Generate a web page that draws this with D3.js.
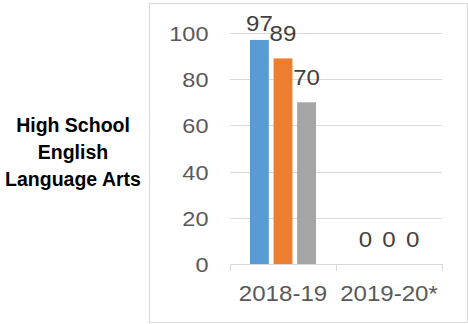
<!DOCTYPE html>
<html>
<head>
<meta charset="utf-8">
<script src="https://cdn.jsdelivr.net/npm/d3@7"></script>
<style>
  html, body { margin: 0; padding: 0; background: #fff; }
  svg { display: block; }
</style>
</head>
<body>
<svg id="chart" width="468" height="324"></svg>
<script>
const categories = ["2018-19", "2019-20*"];
const seriesNames = ["Series A", "Series B", "Series C"];
const seriesValues = [
  [97, 0],
  [89, 0],
  [70, 0]
];
const seriesColors = ["#5b9bd5", "#ed7d31", "#a5a5a5"];
const yTicks = [0, 20, 40, 60, 80, 100];
const titleLines = ["High School", "English", "Language Arts"];

const svg = d3.select("#chart");
const W = 468, H = 324;
const plot = { left: 230, right: 442, top: 33, bottom: 264 };
const sx = 1.12; // horizontal stretch of chart text
const txtFont = "'Liberation Sans', Arial, sans-serif";
const txtColor = "#595959";

svg.append("rect").attr("width", W).attr("height", H).attr("fill", "#fff");

// chart frame
svg.append("rect")
  .attr("x", 149.5).attr("y", 3.5)
  .attr("width", 318).attr("height", 319)
  .attr("fill", "none").attr("stroke", "#d9d9d9").attr("stroke-width", 1);

// left title
const title = svg.append("text")
  .attr("font-family", txtFont)
  .attr("font-weight", "bold")
  .attr("font-size", 19.5)
  .attr("fill", "#000")
  .attr("text-anchor", "middle");
titleLines.forEach((t, i) => {
  title.append("tspan").attr("x", 73).attr("y", 131.5 + i * 27.2).text(t);
});

const y = d3.scaleLinear().domain([0, 100]).range([plot.bottom, plot.top]);
const x0 = d3.scaleBand().domain(categories).range([plot.left, plot.right]).padding(0);
const x1 = d3.scaleBand().domain(d3.range(seriesNames.length))
  .range([20, x0.bandwidth() - 20]).paddingInner(0.2);

// gridlines
svg.append("g").selectAll("line").data(yTicks.filter(d => d > 0)).join("line")
  .attr("x1", plot.left).attr("x2", plot.right)
  .attr("y1", d => Math.round(y(d)) + 0.5).attr("y2", d => Math.round(y(d)) + 0.5)
  .attr("stroke", "#d9d9d9").attr("stroke-width", 1);

// y axis labels
const yAxis = d3.axisLeft(y).tickValues(yTicks).tickSize(0).tickPadding(0);
const gy = svg.append("g").attr("transform", `translate(208.5,0)`).call(yAxis);
gy.select(".domain").remove();
gy.selectAll("text")
  .attr("font-family", txtFont).attr("font-size", 21)
  .attr("fill", txtColor)
  .attr("x", 0).attr("dy", "0.36em")
  .attr("transform", `scale(${sx},1)`);

// bars
const groups = svg.append("g").selectAll("g").data(categories).join("g")
  .attr("transform", d => `translate(${x0(d)},0)`);

groups.selectAll("rect")
  .data((c, ci) => seriesValues.map((vals, si) => ({ si, v: vals[ci] })))
  .join("rect")
  .attr("x", d => x1(d.si))
  .attr("width", x1.bandwidth())
  .attr("y", d => y(d.v))
  .attr("height", d => y(0) - y(d.v))
  .attr("fill", d => seriesColors[d.si]);

// data labels
groups.selectAll("text")
  .data((c, ci) => seriesValues.map((vals, si) => ({ si, v: vals[ci] })))
  .join("text")
  .attr("transform", d => {
    const cx = x1(d.si) + x1.bandwidth() / 2;
    const by = Math.max(y(d.v) - 17, 30.7);
    return `translate(${cx},${by}) scale(${sx},1)`;
  })
  .attr("text-anchor", "middle")
  .attr("font-family", txtFont).attr("font-size", 21.5)
  .attr("fill", "#404040")
  .text(d => d.v);

// x axis
const xAxis = d3.axisBottom(x0).tickSize(0).tickPadding(0);
const gx = svg.append("g").attr("transform", `translate(0,${plot.bottom})`).call(xAxis);
gx.select(".domain").remove();
gx.append("line").attr("x1", plot.left).attr("x2", plot.right + 0.5)
  .attr("y1", 0.5).attr("y2", 0.5).attr("stroke", "#d9d9d9");
const boundaries = [plot.left, ...categories.map(c => x0(c) + x0.bandwidth())];
gx.selectAll(".bnd").data(boundaries).join("line").attr("class", "bnd")
  .attr("x1", d => Math.round(d) + 0.5).attr("x2", d => Math.round(d) + 0.5)
  .attr("y1", 0).attr("y2", 7).attr("stroke", "#d9d9d9");
gx.selectAll(".tick text")
  .attr("font-family", txtFont).attr("font-size", 21.5)
  .attr("fill", txtColor)
  .attr("y", 0).attr("dy", 0)
  .attr("transform", `translate(0,36.5) scale(${sx},1)`);
</script>
</body>
</html>
